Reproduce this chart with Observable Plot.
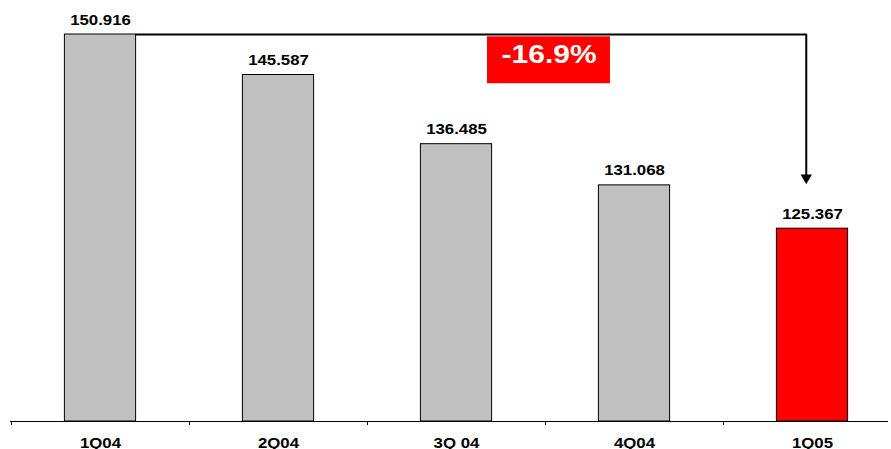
<!DOCTYPE html>
<html><head><meta charset="utf-8">
<script src="https://cdn.jsdelivr.net/npm/d3@7"></script>
<script src="https://cdn.jsdelivr.net/npm/@observablehq/plot@0.6"></script>
<style>
html,body{margin:0;padding:0;background:#fff;}
</style>
</head><body>
<div id="chart"></div>
<script>
const categories = ["1Q04", "2Q04", "3Q 04", "4Q04", "1Q05"];
const values = [150.916, 145.587, 136.485, 131.068, 125.367];
const valueLabels = ["150.916", "145.587", "136.485", "131.068", "125.367"];
const colors = ["#C0C0C0", "#C0C0C0", "#C0C0C0", "#C0C0C0", "#FF0000"];
const changeLabel = "-16.9%";

const data = categories.map((c, i) => ({c, i, v: values[i], label: valueLabels[i], color: colors[i]}));
const half = 0.2;
const boundaries = d3.range(categories.length + 1).map(i => i - 0.5);
const last = categories.length - 1;
const connector = [
  {x: 0 + half, y: values[0]},
  {x: last - 0.035, y: values[0]},
  {x: last - 0.035, y: 132.2}
];

const chart = Plot.plot({
  width: 891,
  height: 449,
  marginLeft: 10,
  marginRight: 3,
  marginTop: 0,
  marginBottom: 28,
  x: {type: "linear", domain: [-0.5, 4.5], range: [11, 901], axis: null},
  y: {domain: [100, 150.916], range: [421, 34], axis: null},
  style: {fontFamily: "Liberation Sans, Arial, sans-serif", background: "#fff", overflow: "visible"},
  marks: [
    Plot.rectY(data, {x1: d => d.i - half, x2: d => d.i + half, y1: 100, y2: "v", fill: "color", stroke: "black", strokeWidth: 1}),
    Plot.ruleY([100], {stroke: "black", strokeWidth: 1}),
    Plot.ruleX(boundaries, {x: d => d, y1: 100, y2: 99.47, stroke: "black", strokeWidth: 1}),
    Plot.text(data, {x: "i", y: "v", text: "label", dy: -10, lineAnchor: "bottom", fontSize: 14, fontWeight: "bold", fill: "black"}),
    Plot.text(data, {x: "i", y: 100, text: "c", dy: 26, lineAnchor: "bottom", fontSize: 14, fontWeight: "bold", fill: "black"}),
    Plot.line(connector, {x: "x", y: "y", stroke: "black", strokeWidth: 2}),
    Plot.dot([connector[2]], {x: "x", y: "y", symbol: "triangle", rotate: 180, r: 4.2, fill: "black", stroke: "none", dy: 1}),
    Plot.rect([{x1: 2.174, x2: 2.865, y1: 144.44, y2: 150.61}], {x1: "x1", x2: "x2", y1: "y1", y2: "y2", fill: "#FF0000"}),
    Plot.text([{x: 2.52, y: 148.25}], {x: "x", y: "y", text: () => changeLabel, fontSize: 25, fontWeight: "bold", fill: "white"})
  ]
});
document.getElementById("chart").appendChild(chart);
// the reference's glyphs are horizontally stretched by about 1.2
d3.select(chart).selectAll("text").each(function() {
  const w = this.getComputedTextLength();
  if (w > 0) {
    this.setAttribute("textLength", (w * 1.2).toFixed(1));
    this.setAttribute("lengthAdjust", "spacingAndGlyphs");
  }
});
</script>
</body></html>
